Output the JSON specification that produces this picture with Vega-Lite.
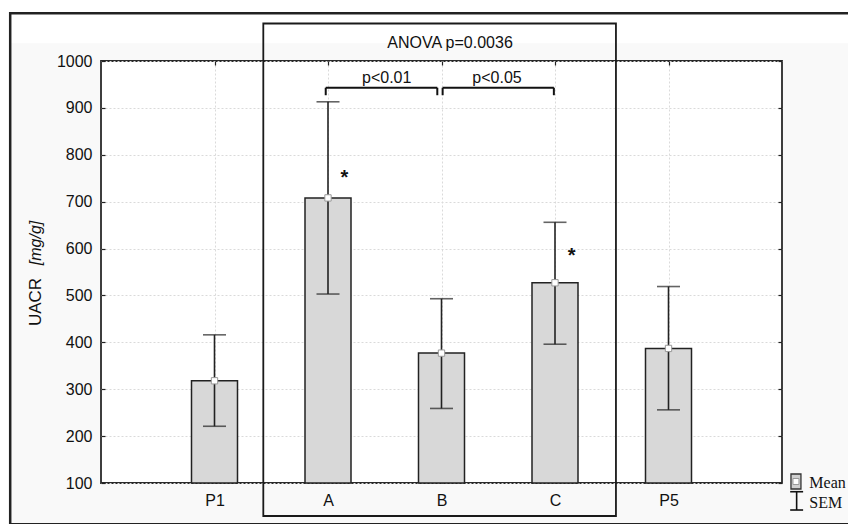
{
  "$schema": "https://vega.github.io/schema/vega-lite/v6.json",
  "width": 681,
  "height": 422,
  "autosize": "none",
  "padding": {"left": 101, "top": 61, "right": 66, "bottom": 41},
  "background": "#f9f9f9",
  "config": {
    "view": {"fill": "white", "stroke": "#2a2a2a", "strokeWidth": 1.8},
    "font": "Liberation Sans",
    "axis": {"labelFont": "Liberation Sans", "labelColor": "#111", "tickColor": "#222", "tickWidth": 1.2}
  },
  "datasets": {
    "groups": [
      {"group": "P1", "mean": 318, "low": 221, "high": 416},
      {"group": "A", "mean": 708, "low": 503, "high": 913},
      {"group": "B", "mean": 377, "low": 259, "high": 493},
      {"group": "C", "mean": 527, "low": 396, "high": 656},
      {"group": "P5", "mean": 387, "low": 256, "high": 519}
    ],
    "one": [{}]
  },
  "resolve": {"scale": {"x": "independent"}, "axis": {"y": "independent"}},
  "layer": [
    {
      "data": {"name": "one"},
      "mark": {"type": "rect", "fill": "white"},
      "encoding": {
        "x": {"datum": -1.5, "type": "quantitative", "scale": {"domain": [0, 6], "nice": false, "zero": false}, "axis": null},
        "x2": {"datum": 7.5},
        "y": {"datum": 1038, "type": "quantitative", "axis": null},
        "y2": {"datum": 1300}
      }
    },
    {
      "data": {"name": "one"},
      "mark": {"type": "rect", "fill": "white"},
      "encoding": {
        "x": {"datum": -1.5, "type": "quantitative", "scale": {"domain": [0, 6], "nice": false, "zero": false}, "axis": null},
        "x2": {"datum": -0.81},
        "y": {"datum": -200, "type": "quantitative", "axis": null},
        "y2": {"datum": 1300}
      }
    },
    {
      "data": {"name": "groups"},
      "mark": {"type": "bar", "size": 46, "fill": "#d8d8d8", "stroke": "#222", "strokeWidth": 1.5},
      "encoding": {
        "x": {
          "field": "group", "type": "nominal",
          "scale": {"type": "point", "domain": ["P1", "A", "B", "C", "P5"], "padding": 1},
          "axis": {"orient": "bottom", "title": null, "domain": false, "tickSize": -4, "labelPadding": 13, "labelFontSize": 16, "labelAngle": 0, "grid": true, "gridDash": [2, 2], "gridColor": "#dadada"}
        },
        "y": {
          "field": "mean", "type": "quantitative",
          "scale": {"domain": [100, 1000], "nice": false, "zero": false},
          "axis": {"orient": "left", "title": null, "format": "d", "values": [100, 200, 300, 400, 500, 600, 700, 800, 900, 1000], "domain": false, "tickSize": -4, "labelPadding": 13, "labelFontSize": 16, "grid": true, "gridDash": [2, 2], "gridColor": "#dadada"}
        },
        "y2": {"datum": 100}
      }
    },
    {
      "data": {"name": "groups"},
      "mark": {"type": "rule", "stroke": "#222", "strokeWidth": 1.6},
      "encoding": {
        "x": {
          "field": "group", "type": "nominal",
          "scale": {"type": "point", "domain": ["P1", "A", "B", "C", "P5"], "padding": 1},
          "axis": {"orient": "top", "title": null, "labels": false, "domain": false, "tickSize": -4, "grid": false}
        },
        "y": {"field": "low", "type": "quantitative", "axis": null},
        "y2": {"field": "high"}
      }
    },
    {
      "data": {"name": "groups"},
      "mark": {"type": "tick", "color": "#222", "size": 23, "thickness": 1.6},
      "encoding": {
        "x": {"field": "group", "type": "nominal", "scale": {"type": "point", "domain": ["P1", "A", "B", "C", "P5"], "padding": 1}, "axis": null},
        "y": {"field": "low", "type": "quantitative", "axis": null}
      }
    },
    {
      "data": {"name": "groups"},
      "mark": {"type": "tick", "color": "#222", "size": 23, "thickness": 1.6},
      "encoding": {
        "x": {"field": "group", "type": "nominal", "scale": {"type": "point", "domain": ["P1", "A", "B", "C", "P5"], "padding": 1}, "axis": null},
        "y": {"field": "high", "type": "quantitative", "axis": null}
      }
    },
    {
      "data": {"name": "groups"},
      "mark": {"type": "point", "shape": "square", "size": 40, "filled": true, "fill": "white", "stroke": "#999", "strokeWidth": 1, "opacity": 1},
      "encoding": {
        "x": {"field": "group", "type": "nominal", "scale": {"type": "point", "domain": ["P1", "A", "B", "C", "P5"], "padding": 1}, "axis": null},
        "y": {
          "field": "mean", "type": "quantitative",
          "axis": {"orient": "right", "title": null, "labels": false, "values": [100, 200, 300, 400, 500, 600, 700, 800, 900, 1000], "domain": false, "tickSize": -4, "grid": false}
        }
      }
    },
    {
      "data": {"name": "one"},
      "mark": {"type": "rect", "filled": false, "fill": null, "stroke": "#222", "strokeWidth": 2.5},
      "encoding": {
        "x": {"datum": -0.8, "type": "quantitative", "scale": {"domain": [0, 6], "nice": false, "zero": false}, "axis": null},
        "x2": {"datum": 7.5},
        "y": {"datum": 1102, "type": "quantitative", "axis": null},
        "y2": {"datum": 12}
      }
    },
    {
      "data": {"name": "one"},
      "mark": {"type": "rect", "filled": false, "fill": null, "stroke": "#1a1a1a", "strokeWidth": 1.8},
      "encoding": {
        "x": {"datum": 1.43, "type": "quantitative", "scale": {"domain": [0, 6], "nice": false, "zero": false}, "axis": null},
        "x2": {"datum": 4.537},
        "y": {"datum": 1080, "type": "quantitative", "axis": null},
        "y2": {"datum": 29.6}
      }
    },
    {
      "data": {"name": "one"},
      "mark": {"type": "text", "text": "ANOVA p=0.0036", "fontSize": 16, "color": "#111", "align": "center", "baseline": "middle"},
      "encoding": {
        "x": {"datum": 3.075, "type": "quantitative", "scale": {"domain": [0, 6], "nice": false, "zero": false}, "axis": null},
        "y": {"datum": 1038, "type": "quantitative", "axis": null}
      }
    },
    {
      "data": {"name": "one"},
      "mark": {"type": "rule", "stroke": "#111", "strokeWidth": 2},
      "encoding": {
        "x": {"datum": 1.98, "type": "quantitative", "scale": {"domain": [0, 6], "nice": false, "zero": false}, "axis": null},
        "x2": {"datum": 2.963},
        "y": {"datum": 943, "type": "quantitative", "axis": null}
      }
    },
    {
      "data": {"name": "one"},
      "mark": {"type": "rule", "stroke": "#111", "strokeWidth": 2},
      "encoding": {
        "x": {"datum": 1.98, "type": "quantitative", "scale": {"domain": [0, 6], "nice": false, "zero": false}, "axis": null},
        "y": {"datum": 943, "type": "quantitative", "axis": null},
        "y2": {"datum": 927}
      }
    },
    {
      "data": {"name": "one"},
      "mark": {"type": "rule", "stroke": "#111", "strokeWidth": 2},
      "encoding": {
        "x": {"datum": 2.963, "type": "quantitative", "scale": {"domain": [0, 6], "nice": false, "zero": false}, "axis": null},
        "y": {"datum": 943, "type": "quantitative", "axis": null},
        "y2": {"datum": 927}
      }
    },
    {
      "data": {"name": "one"},
      "mark": {"type": "text", "text": "p<0.01", "fontSize": 16, "color": "#111", "align": "center", "baseline": "alphabetic"},
      "encoding": {
        "x": {"datum": 2.517, "type": "quantitative", "scale": {"domain": [0, 6], "nice": false, "zero": false}, "axis": null},
        "y": {"datum": 954, "type": "quantitative", "axis": null}
      }
    },
    {
      "data": {"name": "one"},
      "mark": {"type": "rule", "stroke": "#111", "strokeWidth": 2},
      "encoding": {
        "x": {"datum": 3.01, "type": "quantitative", "scale": {"domain": [0, 6], "nice": false, "zero": false}, "axis": null},
        "x2": {"datum": 3.99},
        "y": {"datum": 943, "type": "quantitative", "axis": null}
      }
    },
    {
      "data": {"name": "one"},
      "mark": {"type": "rule", "stroke": "#111", "strokeWidth": 2},
      "encoding": {
        "x": {"datum": 3.01, "type": "quantitative", "scale": {"domain": [0, 6], "nice": false, "zero": false}, "axis": null},
        "y": {"datum": 943, "type": "quantitative", "axis": null},
        "y2": {"datum": 927}
      }
    },
    {
      "data": {"name": "one"},
      "mark": {"type": "rule", "stroke": "#111", "strokeWidth": 2},
      "encoding": {
        "x": {"datum": 3.99, "type": "quantitative", "scale": {"domain": [0, 6], "nice": false, "zero": false}, "axis": null},
        "y": {"datum": 943, "type": "quantitative", "axis": null},
        "y2": {"datum": 927}
      }
    },
    {
      "data": {"name": "one"},
      "mark": {"type": "text", "text": "p<0.05", "fontSize": 16, "color": "#111", "align": "center", "baseline": "alphabetic"},
      "encoding": {
        "x": {"datum": 3.489, "type": "quantitative", "scale": {"domain": [0, 6], "nice": false, "zero": false}, "axis": null},
        "y": {"datum": 954, "type": "quantitative", "axis": null}
      }
    },
    {
      "data": {"name": "one"},
      "mark": {"type": "text", "text": "*", "fontSize": 20, "fontWeight": "bold", "color": "#111", "align": "center", "baseline": "alphabetic"},
      "encoding": {
        "x": {"datum": 2.144, "type": "quantitative", "scale": {"domain": [0, 6], "nice": false, "zero": false}, "axis": null},
        "y": {"datum": 738, "type": "quantitative", "axis": null}
      }
    },
    {
      "data": {"name": "one"},
      "mark": {"type": "text", "text": "*", "fontSize": 20, "fontWeight": "bold", "color": "#111", "align": "center", "baseline": "alphabetic"},
      "encoding": {
        "x": {"datum": 4.147, "type": "quantitative", "scale": {"domain": [0, 6], "nice": false, "zero": false}, "axis": null},
        "y": {"datum": 571, "type": "quantitative", "axis": null}
      }
    },
    {
      "data": {"name": "one"},
      "mark": {"type": "rect", "fill": "#d0d0d0", "stroke": "#333", "strokeWidth": 1.3},
      "encoding": {
        "x": {"datum": 6.079, "type": "quantitative", "scale": {"domain": [0, 6], "nice": false, "zero": false}, "axis": null},
        "x2": {"datum": 6.167},
        "y": {"datum": 119.2, "type": "quantitative", "axis": null},
        "y2": {"datum": 87.2}
      }
    },
    {
      "data": {"name": "one"},
      "mark": {"type": "point", "shape": "square", "size": 36, "filled": true, "fill": "white", "stroke": "#999", "strokeWidth": 1, "opacity": 1},
      "encoding": {
        "x": {"datum": 6.123, "type": "quantitative", "scale": {"domain": [0, 6], "nice": false, "zero": false}, "axis": null},
        "y": {"datum": 103.2, "type": "quantitative", "axis": null}
      }
    },
    {
      "data": {"name": "one"},
      "mark": {"type": "text", "text": "Mean", "font": "Liberation Serif", "fontSize": 16, "color": "#111", "align": "left", "baseline": "middle"},
      "encoding": {
        "x": {"datum": 6.241, "type": "quantitative", "scale": {"domain": [0, 6], "nice": false, "zero": false}, "axis": null},
        "y": {"datum": 99.4, "type": "quantitative", "axis": null}
      }
    },
    {
      "data": {"name": "one"},
      "mark": {"type": "rule", "stroke": "#111", "strokeWidth": 1.6},
      "encoding": {
        "x": {"datum": 6.129, "type": "quantitative", "scale": {"domain": [0, 6], "nice": false, "zero": false}, "axis": null},
        "y": {"datum": 81.4, "type": "quantitative", "axis": null},
        "y2": {"datum": 42.4}
      }
    },
    {
      "data": {"name": "one"},
      "mark": {"type": "rule", "stroke": "#111", "strokeWidth": 1.6},
      "encoding": {
        "x": {"datum": 6.072, "type": "quantitative", "scale": {"domain": [0, 6], "nice": false, "zero": false}, "axis": null},
        "x2": {"datum": 6.186},
        "y": {"datum": 81.4, "type": "quantitative", "axis": null}
      }
    },
    {
      "data": {"name": "one"},
      "mark": {"type": "rule", "stroke": "#111", "strokeWidth": 1.6},
      "encoding": {
        "x": {"datum": 6.072, "type": "quantitative", "scale": {"domain": [0, 6], "nice": false, "zero": false}, "axis": null},
        "x2": {"datum": 6.186},
        "y": {"datum": 42.4, "type": "quantitative", "axis": null}
      }
    },
    {
      "data": {"name": "one"},
      "mark": {"type": "text", "text": "SEM", "font": "Liberation Serif", "fontSize": 16, "color": "#111", "align": "left", "baseline": "middle"},
      "encoding": {
        "x": {"datum": 6.241, "type": "quantitative", "scale": {"domain": [0, 6], "nice": false, "zero": false}, "axis": null},
        "y": {"datum": 56.7, "type": "quantitative", "axis": null}
      }
    },
    {
      "data": {"name": "one"},
      "mark": {"type": "text", "text": "UACR", "fontSize": 17, "color": "#111", "angle": 270, "align": "center", "baseline": "alphabetic"},
      "encoding": {
        "x": {"datum": -0.53, "type": "quantitative", "scale": {"domain": [0, 6], "nice": false, "zero": false}, "axis": null},
        "y": {"datum": 486, "type": "quantitative", "axis": null}
      }
    },
    {
      "data": {"name": "one"},
      "mark": {"type": "text", "text": "[mg/g]", "fontSize": 16, "fontStyle": "italic", "color": "#111", "angle": 270, "align": "center", "baseline": "alphabetic"},
      "encoding": {
        "x": {"datum": -0.53, "type": "quantitative", "scale": {"domain": [0, 6], "nice": false, "zero": false}, "axis": null},
        "y": {"datum": 612, "type": "quantitative", "axis": null}
      }
    }
  ]
}
